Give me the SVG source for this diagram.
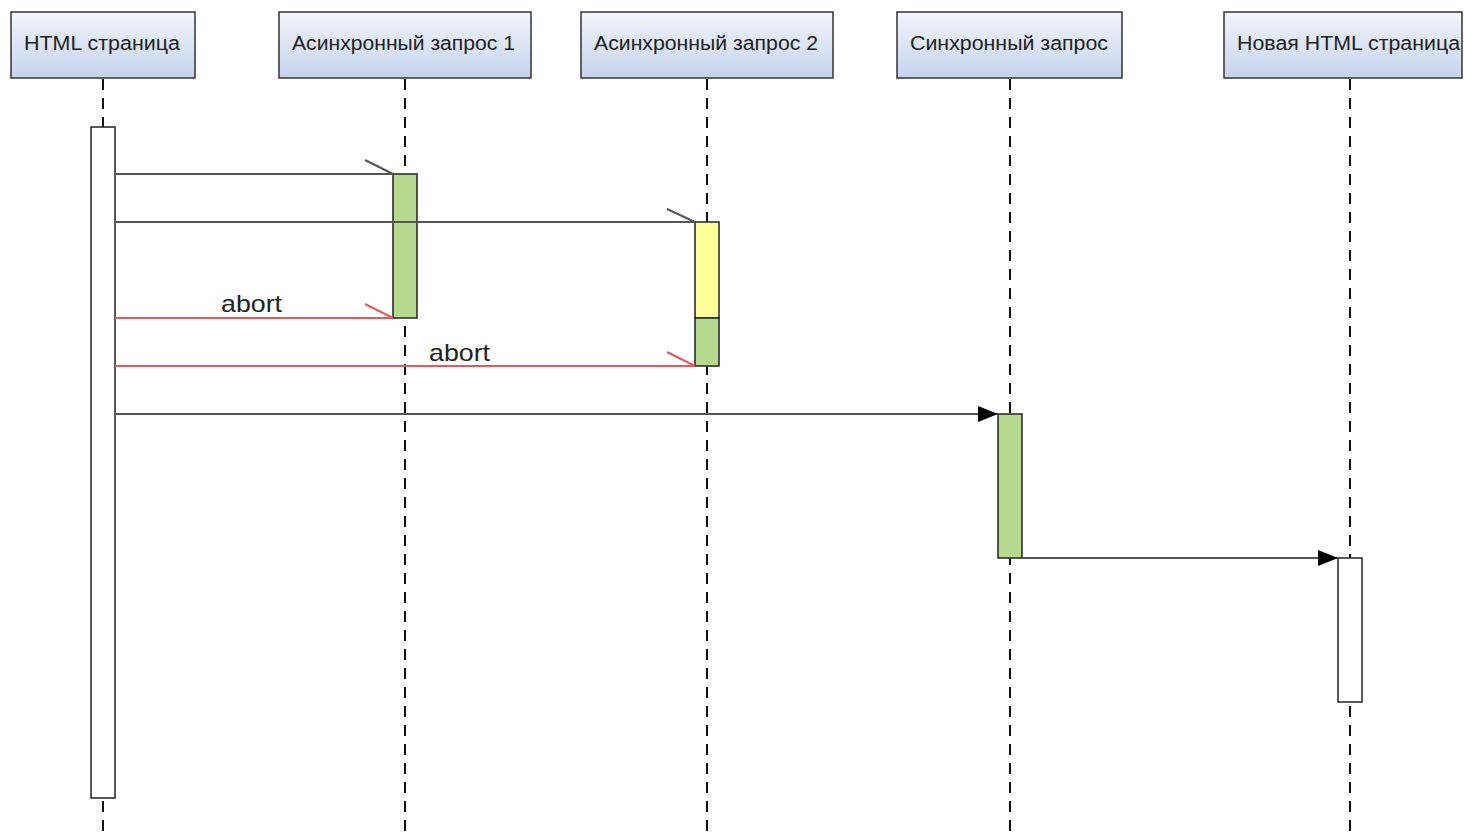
<svg xmlns="http://www.w3.org/2000/svg" width="1464" height="833" viewBox="0 0 1464 833">
<defs>
<linearGradient id="hdr" x1="0" y1="0" x2="0" y2="1">
<stop offset="0" stop-color="#f2f5fb"/>
<stop offset="1" stop-color="#c5d4ec"/>
</linearGradient>
<marker id="tri" markerWidth="20" markerHeight="16" refX="20" refY="8" orient="auto" markerUnits="userSpaceOnUse">
<path d="M0,0 L20,8 L0,16 Z" fill="#000"/>
</marker>
</defs>
<style>
.hdr{fill:url(#hdr);stroke:#333;stroke-width:1.5}
.ht{font-family:"Liberation Sans",Arial,sans-serif;font-size:20px;fill:#222}
.life{stroke:#111;stroke-width:2;stroke-dasharray:11 8;fill:none}
.act{stroke:#222;stroke-width:1.5}
.msg{stroke:#555;stroke-width:2;fill:none}
.red{stroke:#e8585a;stroke-width:2;fill:none}
.lbl{font-family:"Liberation Sans",Arial,sans-serif;font-size:24px;fill:#222}
</style>
<rect width="1464" height="833" fill="#fff"/>
<g id="lifelines">
<line class="life" x1="103" y1="79" x2="103" y2="833"/>
<line class="life" x1="405" y1="79" x2="405" y2="833"/>
<line class="life" x1="707" y1="79" x2="707" y2="833"/>
<line class="life" x1="1010" y1="79" x2="1010" y2="833"/>
<line class="life" x1="1350" y1="79" x2="1350" y2="833"/>
</g>
<g id="node-html">
<rect class="hdr" x="11" y="12" width="184" height="66"/>
<text class="ht" x="24" y="50" textLength="156" lengthAdjust="spacingAndGlyphs">HTML страница</text>
</g>
<g id="node-async1">
<rect class="hdr" x="279" y="12" width="252" height="66"/>
<text class="ht" x="292" y="50" textLength="223" lengthAdjust="spacingAndGlyphs">Асинхронный запрос 1</text>
</g>
<g id="node-async2">
<rect class="hdr" x="581" y="12" width="252" height="66"/>
<text class="ht" x="594" y="50" textLength="224" lengthAdjust="spacingAndGlyphs">Асинхронный запрос 2</text>
</g>
<g id="node-sync">
<rect class="hdr" x="897" y="12" width="225" height="66"/>
<text class="ht" x="910" y="50" textLength="198" lengthAdjust="spacingAndGlyphs">Синхронный запрос</text>
</g>
<g id="node-new">
<rect class="hdr" x="1224" y="12" width="238" height="66"/>
<text class="ht" x="1237" y="50" textLength="223" lengthAdjust="spacingAndGlyphs">Новая HTML страница</text>
</g>
<g id="activations">
<rect class="act" x="91" y="127" width="24" height="671" fill="#fff"/>
<rect class="act" x="393" y="174" width="24" height="144" fill="#b5d98f"/>
<rect class="act" x="695" y="222" width="24" height="96" fill="#ffff99"/>
<rect class="act" x="695" y="318" width="24" height="48" fill="#b5d98f"/>
<rect class="act" x="998" y="414" width="24" height="144" fill="#b5d98f"/>
<rect class="act" x="1338" y="558" width="24" height="144" fill="#fff"/>
</g>
<g id="connectors">
<line class="msg" x1="115" y1="174" x2="393" y2="174"/>
<line class="msg" x1="365" y1="160" x2="393" y2="174" stroke="#222"/>
<line class="msg" x1="115" y1="222" x2="695" y2="222"/>
<line class="msg" x1="667" y1="209" x2="695" y2="222" stroke="#222"/>
<line class="red" x1="115" y1="318" x2="393" y2="318"/>
<line class="red" x1="365" y1="304" x2="393" y2="318"/>
<line class="red" x1="115" y1="366" x2="695" y2="366"/>
<line class="red" x1="667" y1="352" x2="695" y2="366"/>
<line class="msg" x1="115" y1="414" x2="998" y2="414" marker-end="url(#tri)"/>
<line class="msg" x1="1022" y1="558" x2="1338" y2="558" marker-end="url(#tri)"/>
<text class="lbl" x="221" y="312" textLength="61" lengthAdjust="spacingAndGlyphs">abort</text>
<text class="lbl" x="429" y="361" textLength="61" lengthAdjust="spacingAndGlyphs">abort</text>
</g>
</svg>
